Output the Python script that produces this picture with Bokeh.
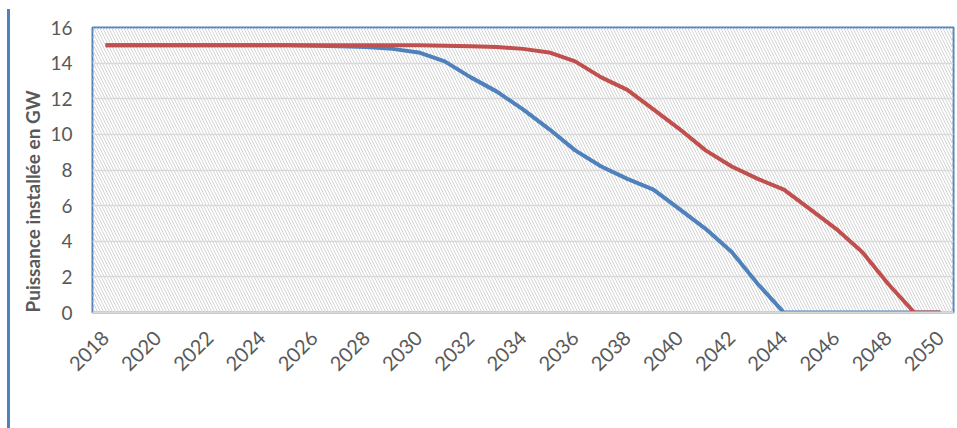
from bokeh.plotting import figure
from bokeh.models import (BoxAnnotation, FixedTicker, Legend, LegendItem, Title,
                          Range1d, ColumnDataSource)
from bokeh.embed import file_html
from bokeh.resources import INLINE
import math

years = list(range(2018, 2051))
ans25 = [15.0, 15.0, 15.0, 15.0, 15.0, 15.0, 15.0, 15.0, 14.98,
         14.95, 14.9, 14.8, 14.6, 14.1, 13.2, 12.4, 11.4, 10.3, 9.1,
         8.2, 7.5, 6.9, 5.8, 4.7, 3.4, 1.6,
         0, 0, 0, 0, 0, 0, 0]
ans30 = [15.0, 15.0, 15.0, 15.0, 15.0, 15.0, 15.0, 15.0, 15.0, 15.0,
         15.0, 15.0, 15.0, 14.98,
         14.95, 14.9, 14.8, 14.6, 14.1, 13.2, 12.5, 11.4, 10.3, 9.1,
         8.2, 7.5, 6.9, 5.8, 4.7, 3.4, 1.6,
         0, 0]
x_ticks = list(range(2018, 2051, 2))
y_ticks = list(range(0, 17, 2))
series_labels = ["25 ans", "30 ans"]

BLUE = "#4F81BD"
RED = "#C0504D"
GREY = "#595959"
FONT = "Lato"

src = ColumnDataSource(data=dict(year=years, a25=ans25, a30=ans30))

p = figure(frame_width=861, frame_height=285,
           x_range=Range1d(2017.5, 2050.5), y_range=Range1d(0, 16),
           output_backend="svg", toolbar_location=None,
           min_border_left=82, min_border_right=2, min_border_top=18,
           min_border_bottom=10,
           background_fill_color="white", border_fill_color="white",
           outline_line_color=BLUE, outline_line_width=2,
           styles={"border-left": "3px solid " + BLUE,
                   "margin-left": "7px", "margin-top": "9px"})

hatch = BoxAnnotation(fill_alpha=0, line_alpha=0, hatch_pattern="\\",
                      hatch_color="#d4d4d4", hatch_scale=6, hatch_weight=1,
                      level="image")
p.add_layout(hatch)

r1 = p.line("year", "a25", source=src, line_width=4, line_color=BLUE)
r2 = p.line("year", "a30", source=src, line_width=4, line_color=RED)

p.xgrid.grid_line_color = None
p.ygrid.grid_line_color = "#d9d9d9"
p.ygrid.grid_line_width = 1.5
p.yaxis.ticker = FixedTicker(ticks=y_ticks)
p.xaxis.ticker = FixedTicker(ticks=x_ticks)

for ax in (p.xaxis, p.yaxis):
    ax.major_tick_line_color = None
    ax.minor_tick_line_color = None
    ax.major_label_text_font = FONT
    ax.major_label_text_color = GREY
p.yaxis.major_label_text_font_size = "19px"
p.xaxis.major_label_text_font_size = "20px"
p.yaxis.axis_line_color = None
p.yaxis.major_label_standoff = 14
p.xaxis.axis_line_color = "#d9d9d9"
p.xaxis.axis_line_width = 2
p.xaxis.major_label_orientation = math.pi / 4
p.xaxis.major_label_standoff = 16

legend = Legend(items=[LegendItem(label=series_labels[0], renderers=[r1]),
                       LegendItem(label=series_labels[1], renderers=[r2])],
                orientation="horizontal", location="center",
                glyph_width=52, glyph_height=20, label_standoff=5,
                label_width=120, spacing=60,
                border_line_color=None, background_fill_alpha=0,
                label_text_font=FONT, label_text_font_size="19px",
                label_text_color=GREY, padding=0, margin=0)
p.add_layout(legend, "below")

title = Title(text="Puissance installée en GW", align="left",
              text_font=FONT, text_font_size="19px", text_font_style="bold",
              text_color=GREY, standoff=7)
p.add_layout(title, "left")

open("out.html", "w").write(file_html(p, INLINE))
